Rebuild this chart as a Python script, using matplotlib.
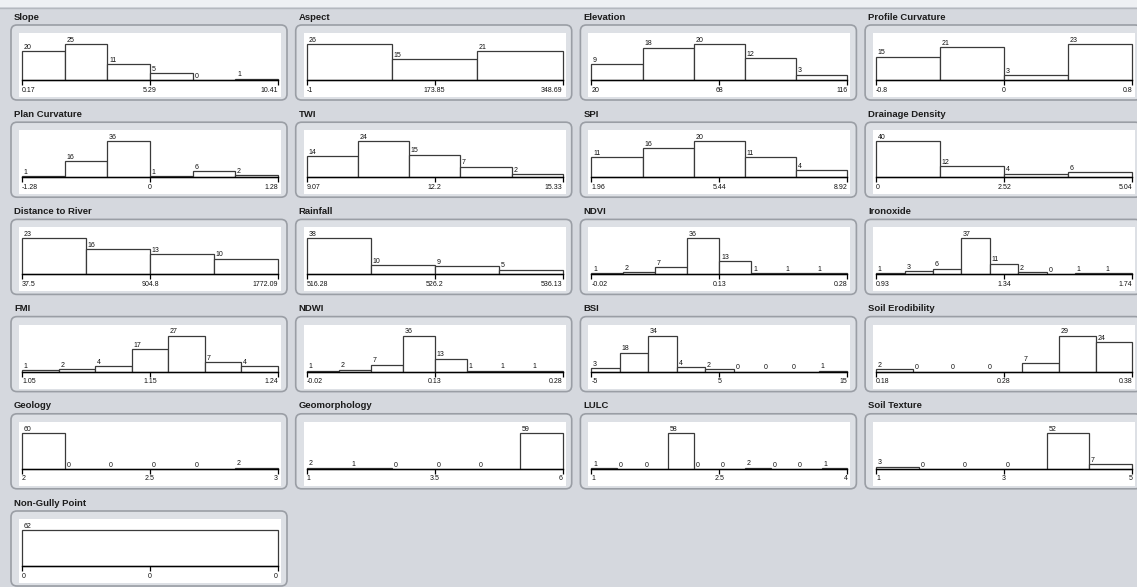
import matplotlib
matplotlib.use('Agg')
import matplotlib.pyplot as plt
from matplotlib.patches import FancyBboxPatch, Rectangle

# Histogram panels (factor name, bin counts, axis labels min/mid/max)
panel_titles = [
    'Slope', 'Aspect', 'Elevation', 'Profile Curvature',
    'Plan Curvature', 'TWI', 'SPI', 'Drainage Density',
    'Distance to River', 'Rainfall', 'NDVI', 'Ironoxide',
    'FMI', 'NDWI', 'BSI', 'Soil Erodibility',
    'Geology', 'Geomorphology', 'LULC', 'Soil Texture',
    'Non-Gully Point',
]

panel_counts = [
    [20, 25, 11, 5, 0, 1],
    [26, 15, 21],
    [9, 18, 20, 12, 3],
    [15, 21, 3, 23],
    [1, 16, 36, 1, 6, 2],
    [14, 24, 15, 7, 2],
    [11, 16, 20, 11, 4],
    [40, 12, 4, 6],
    [23, 16, 13, 10],
    [38, 10, 9, 5],
    [1, 2, 7, 36, 13, 1, 1, 1],
    [1, 3, 6, 37, 11, 2, 0, 1, 1],
    [1, 2, 4, 17, 27, 7, 4],
    [1, 2, 7, 36, 13, 1, 1, 1],
    [3, 18, 34, 4, 2, 0, 0, 0, 1],
    [2, 0, 0, 0, 7, 29, 24],
    [60, 0, 0, 0, 0, 2],
    [2, 1, 0, 0, 0, 59],
    [1, 0, 0, 58, 0, 0, 2, 0, 0, 1],
    [3, 0, 0, 0, 52, 7],
    [62],
]

panel_ticks = [
    ['0.17', '5.29', '10.41'],
    ['-1', '173.85', '348.69'],
    ['20', '68', '116'],
    ['-0.8', '0', '0.8'],
    ['-1.28', '0', '1.28'],
    ['9.07', '12.2', '15.33'],
    ['1.96', '5.44', '8.92'],
    ['0', '2.52', '5.04'],
    ['37.5', '904.8', '1772.09'],
    ['516.28', '526.2', '536.13'],
    ['-0.02', '0.13', '0.28'],
    ['0.93', '1.34', '1.74'],
    ['1.05', '1.15', '1.24'],
    ['-0.02', '0.13', '0.28'],
    ['-5', '5', '15'],
    ['0.18', '0.28', '0.38'],
    ['2', '2.5', '3'],
    ['1', '3.5', '6'],
    ['1', '2.5', '4'],
    ['1', '3', '5'],
    ['0', '0', '0'],
]

W, H = 1137, 587
BG = '#d5d8de'
PANEL_BG = '#dde0e5'
PANEL_EDGE = '#9a9ea5'
BAR_EDGE = '#3a3a3a'
FONT = 'Liberation Sans'

fig = plt.figure(figsize=(W / 100, H / 100), dpi=100, facecolor=BG)

# background layer in pixel coordinates (y down)
bg = fig.add_axes((0, 0, 1, 1))
bg.set_xlim(0, W)
bg.set_ylim(H, 0)
bg.axis('off')
bg.add_patch(Rectangle((0, 0), W, 7, facecolor='#eef0f3', edgecolor='none'))
bg.plot([0, W], [7.5, 7.5], color='#b4b8be', lw=1)

COL_STEP = 284.7
ROW_STEP = 97.2
PLOT_W = 256
BAR_H = 36

for k, (title, counts, ticks) in enumerate(zip(panel_titles, panel_counts, panel_ticks)):
    r, c = divmod(k, 4)
    px = 22 + COL_STEP * c          # left edge of the bar area
    base = 80 + ROW_STEP * r        # baseline y (pixels from top)

    # panel frame
    bg.add_patch(FancyBboxPatch((px - 11, base - 55), PLOT_W + 20, 75,
                                boxstyle='round,pad=0,rounding_size=6',
                                facecolor=PANEL_BG, edgecolor=PANEL_EDGE,
                                linewidth=1.2))
    bg.add_patch(Rectangle((px - 3, base - 47), PLOT_W + 6, 64,
                           facecolor='white', edgecolor='none'))
    bg.text(px - 8, base - 63, title, fontsize=6.8, fontweight='bold',
            color='#1c1c1c', family=FONT, ha='left', va='center')

    # histogram
    n = len(counts)
    ax = fig.add_axes((px / W, 1 - base / H, PLOT_W / W, BAR_H / H))
    ax.set_xlim(0, n)
    ax.set_ylim(0, max(counts))
    ax.patch.set_visible(False)
    ax.bar(range(n), counts, width=1, align='edge', facecolor='white',
           edgecolor=BAR_EDGE, linewidth=0.9, clip_on=False, zorder=2)
    for i, v in enumerate(counts):
        ax.annotate(str(v), (i, v), xytext=(1.2, 0.2), textcoords='offset points',
                    fontsize=5, family=FONT, color='#111111',
                    ha='left', va='bottom')

    for side in ('top', 'left', 'right'):
        ax.spines[side].set_visible(False)
    ax.spines['bottom'].set_linewidth(1)
    ax.spines['bottom'].set_color('black')
    ax.spines['bottom'].set_zorder(3)
    ax.set_yticks([])
    ax.set_xticks([0, n / 2, n])
    ax.set_xticklabels(ticks, fontsize=5, family=FONT, color='#111111')
    ax.tick_params(axis='x', direction='out', length=3.5, width=0.9, pad=1.2)
    labs = ax.get_xticklabels()
    labs[0].set_ha('left')
    labs[1].set_ha('center')
    labs[2].set_ha('right')

fig.savefig('out.png', dpi=100, facecolor=BG)
